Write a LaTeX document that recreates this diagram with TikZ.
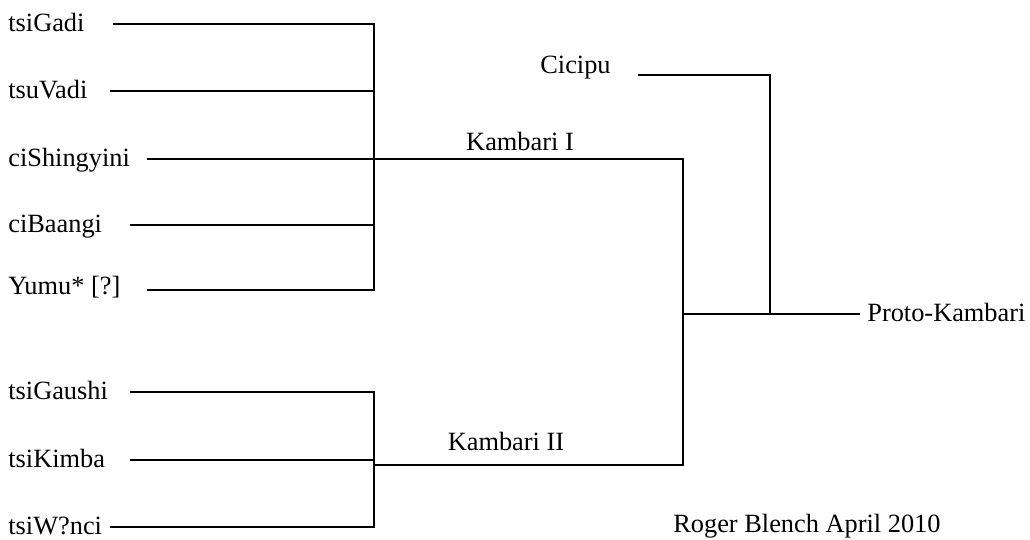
\documentclass[tikz,border=0pt]{standalone}
\usepackage{fontspec}
\setmainfont{Liberation Serif}

\begin{document}
\begin{tikzpicture}[
    x=0.02cm, y=-0.02cm,
    lang/.style={anchor=base west, inner sep=0pt, font=\fontsize{15}{18}\selectfont},
    grp/.style={anchor=base, inner sep=0pt, font=\fontsize{15}{18}\selectfont},
    branch/.style={line width=1.25pt, line join=miter}
]
\useasboundingbox (0,0) rectangle (1030,539);

% Nodes
\node[lang] (gadi)   at (8,31.5)  {tsiGadi};
\node[lang] (vadi)   at (8,98.5)  {tsuVadi};
\node[lang] (shing)  at (8,166.5) {ciShingyini};
\node[lang] (baangi) at (8,232.5) {ciBaangi};
\node[lang] (yumu)   at (8,294.5) {Yumu* [?]};

\node[lang] (gaushi) at (8,399.5) {tsiGaushi};
\node[lang] (kimba)  at (8,467.5) {tsiKimba};
\node[lang] (wnci)   at (8,534.5) {tsiW?nci};

\node[lang] (cicipu) at (540,73)  {Cicipu};
\node[lang] (proto)  at (867,321) {Proto-Kambari};

\node[grp] (kIlbl)  at (520,150) {Kambari I};
\node[grp] (kIIlbl) at (506,450) {Kambari II};
\node[lang] (sig)   at (673,532) {Roger Blench April 2010};

% Branch ends
\coordinate (gadi-l)   at (113,24);
\coordinate (vadi-l)   at (110,91);
\coordinate (shing-l)  at (147,159);
\coordinate (baangi-l) at (130,225);
\coordinate (yumu-l)   at (147,290);
\coordinate (gaushi-l) at (130,392);
\coordinate (kimba-l)  at (130,460);
\coordinate (wnci-l)   at (110,527);
\coordinate (cicipu-l) at (638,75);
\coordinate (proto-l)  at (860,314);

% Junctions
\coordinate (kI)   at (374,159);
\coordinate (kII)  at (374,465);
\coordinate (root) at (683,314);
\coordinate (top)  at (770,314);

% Kambari I
\draw[branch] (gadi-l) -- (gadi-l -| kI) -- (yumu-l -| kI) -- (yumu-l);
\foreach \n in {vadi,baangi}
    \draw[branch] (\n-l) -- (\n-l -| kI);
\draw[branch] (shing-l) -- (shing-l -| root) -- (kII -| root) -- (kII);

% Kambari II
\draw[branch] (gaushi-l) -- (gaushi-l -| kII) -- (wnci-l -| kII) -- (wnci-l);
\draw[branch] (kimba-l) -- (kimba-l -| kII);

% Root and Cicipu
\draw[branch] (root) -- (proto-l);
\draw[branch] (cicipu-l) -- (cicipu-l -| top) -- (top);

\end{tikzpicture}
\end{document}
